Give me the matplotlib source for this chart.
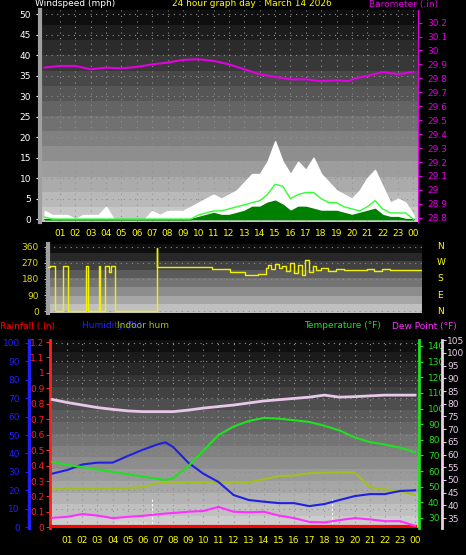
import numpy as np
import matplotlib
matplotlib.use("Agg")
import matplotlib.pyplot as plt

# ---- data (hours 0..24) ----
half_hours = np.arange(0, 24.5, 0.5)
wind_gust = [2, 1, 1, 1, 0, 1, 1, 1, 3, 0, 0, 0, 0, 0, 2, 1, 2, 2, 2, 3,
             4, 5, 6, 5, 6, 7, 9, 11, 11, 14, 19, 14, 11, 14, 12, 15, 11, 9,
             7, 6, 5, 7, 10, 12, 8, 4, 5, 4, 1]
wind_avg = [0.5, 0, 0, 0, 0, 0, 0, 0, 0, 0, 0, 0, 0, 0, 0, 0, 0, 0, 0, 0,
            1, 1.5, 2, 2, 2.5, 3, 3.5, 4, 4.5, 6, 8.5, 8, 5, 6, 6.5, 6.5, 5, 4,
            4, 3, 2.5, 2, 3, 4.5, 2.5, 1.5, 1.5, 1.5, 0]
wind_speed = [0, 0, 0, 0, 0, 0, 0, 0, 0, 0, 0, 0, 0, 0, 0, 0, 0, 0, 0, 0,
              0.5, 1, 1.5, 1, 1, 1.5, 2, 3, 3, 4, 4.5, 3.5, 2, 3, 3, 2.5, 2, 2,
              2, 1.5, 1, 1.5, 2, 2.5, 1, 0.5, 0.5, 0, 0]

baro_hours = [0, 1, 2, 3, 4, 5, 6, 7, 8, 9, 10, 11, 12, 13, 14, 15, 16, 17,
              18, 19, 19.8, 20.2, 21, 22, 23, 24]
baro = [29.877, 29.889, 29.889, 29.865, 29.877, 29.872, 29.882, 29.90,
        29.913, 29.932, 29.937, 29.925, 29.90, 29.865, 29.829, 29.81, 29.793,
        29.793, 29.78, 29.786, 29.78, 29.80, 29.817, 29.846, 29.83, 29.846]

dir_hours = [0.2, 0.35, 0.67, 1.21, 1.54, 2.69, 2.84, 3.52, 3.6, 3.93, 4.2,
             4.3, 4.58, 7.29, 7.32, 10.0, 10.88, 12.07, 13.05, 13.9, 14.4,
             14.55, 14.75, 15.0, 15.25, 15.5, 15.75, 16.0, 16.25, 16.5, 16.75,
             17.0, 17.25, 17.5, 17.7, 18.0, 18.5, 19.0, 19.5, 20.0, 20.5,
             21.0, 21.5, 22.0, 22.5, 22.7, 24.6]
wind_dir = [245, 250, 0, 250, 0, 250, 0, 250, 0, 250, 220, 250, 0, 355, 245,
            245, 235, 220, 200, 210, 240, 260, 235, 265, 240, 255, 225, 270,
            215, 260, 200, 285, 220, 255, 230, 240, 225, 235, 230, 232, 228,
            238, 222, 236, 230, 230, 230]

hours = [0, 1, 2, 3, 4, 5, 6, 7, 7.5, 8, 9, 10, 11, 12, 13, 14, 15, 16, 17,
         18, 19, 20, 21, 22, 23, 24]
humidity = [29, 31, 34, 35, 35, 38.6, 42, 45, 46, 43.5, 35, 29, 24.5, 17.4,
            14.7, 13.8, 13, 13, 11.4, 12.5, 14.7, 16.8, 17.9, 17.9, 19.6, 20]
indoor_hum = [20.6, 20.6, 21, 21, 21, 21.2, 21.7, 24, 24, 24, 24.3, 24.3,
              24.3, 24.3, 24.3, 26, 27.7, 28, 29.3, 29.5, 29.7, 29.7, 21.7,
              20.5, 19.5, 17.4]
temperature = [65.8, 64, 62.5, 61, 59.5, 58, 56.5, 55, 54.3, 55.5, 63, 73,
               83, 88.5, 92, 94, 93.5, 92.5, 91.4, 89, 86, 81.5, 78.6, 77,
               75, 72]
dew_point = [35.1, 35.5, 36.6, 36, 35, 35.5, 35.9, 36.5, 36.8, 37, 37.5, 37.8,
             39.4, 37.5, 37.3, 37.5, 36, 35, 33.5, 33.3, 34.2, 35, 34.5, 33.8,
             33.8, 32]
indoor_temp = [81.7, 80.5, 79.5, 78.5, 77.8, 77.2, 76.9, 76.9, 76.9, 76.9,
               77.5, 78.3, 78.9, 79.5, 80.3, 81.1, 81.6, 82.1, 82.6, 83.4,
               82.6, 82.8, 83.1, 83.4, 83.4, 83.4]
rainfall = [0] * len(hours)

hour_ticks = list(range(1, 25))
hour_labels = ["%02d" % (h % 24) for h in hour_ticks]

W, H = 466, 555


def box(l, t, r, b):
    return [l / W, 1 - b / H, (r - l) / W, (b - t) / H]


def background(ax, top, bottom, bands):
    grad = np.linspace(top, bottom, bands).reshape(-1, 1)
    ax.imshow(grad, cmap="gray", vmin=0, vmax=1, aspect="auto",
              extent=[0, 1, 0, 1], transform=ax.transAxes, zorder=0,
              interpolation="nearest")


def hour_axis(ax, pad):
    ax.set_xticks(hour_ticks)
    ax.set_xticklabels(hour_labels, color="yellow", fontsize=fs)
    ax.tick_params(axis="x", length=0, pad=pad)
    for h in hour_ticks:
        ax.axvline(h, color="#909090", ls=(0, (1, 4)), lw=0.8, zorder=1)


fig = plt.figure(figsize=(W / 100, H / 100), dpi=100, facecolor="black")
fs = 6.5

# ---- top panel: wind + barometer ----
ax1 = fig.add_axes(box(40, 10, 418, 222))
background(ax1, 0.06, 0.78, 14)
ax1.set_xlim(-0.3, 24.3)
ax1.set_ylim(-0.7, 51)
hour_axis(ax1, 5)
for v in range(0, 51, 5):
    ax1.axhline(v, color="#909090", ls=(0, (1, 4)), lw=0.8, zorder=1)
ax1.fill_between(half_hours, wind_gust, color="white", zorder=2)
ax1.fill_between(half_hours, wind_speed, color="#008000", zorder=3)
ax1.plot(half_hours, wind_avg, color="#30ff30", lw=1, zorder=4)
ax1.set_yticks(range(0, 51, 5))
ax1.tick_params(axis="y", colors="white", labelsize=fs, length=3)
for s in ["top", "right", "bottom"]:
    ax1.spines[s].set_visible(False)
ax1.spines["left"].set_color("#a0a0a0")
ax1.spines["left"].set_linewidth(3)

ax1b = ax1.twinx()
ax1b.set_ylim(28.77, 30.29)
ax1b.plot(baro_hours, baro, color="#e000e0", lw=1.5)
baro_ticks = np.round(np.arange(28.8, 30.25, 0.1), 1)
ax1b.set_yticks(baro_ticks)
ax1b.set_yticklabels(["%g" % v for v in baro_ticks])
ax1b.tick_params(axis="y", colors="#e000e0", labelsize=fs, length=3)
for s in ["top", "left", "bottom"]:
    ax1b.spines[s].set_visible(False)
ax1b.spines["right"].set_color("#e000e0")

fig.text(35 / W, 1 - 4 / H, "Windspeed (mph)", color="white", fontsize=fs, va="center")
fig.text(172 / W, 1 - 4 / H, "24 hour graph day : March 14 2026", color="yellow",
         fontsize=fs, va="center")
fig.text(438 / W, 1 - 4 / H, "Barometer (.in)", color="#e000e0", fontsize=fs,
         va="center", ha="right")

# ---- middle panel: wind direction ----
ax2 = fig.add_axes(box(48, 244, 422, 313))
background(ax2, 0.06, 0.75, 8)
ax2.set_xlim(0.21, 24.6)
ax2.set_ylim(-10, 375)
ax2.set_xticks([])
for v in [0, 90, 180, 270, 360]:
    ax2.axhline(v, color="#909090", ls=(0, (1, 4)), lw=0.8, zorder=1)
ax2.plot(dir_hours, wind_dir, drawstyle="steps-post", color="#f0f000", lw=1, zorder=3)
ax2.set_yticks([0, 90, 180, 270, 360])
ax2.tick_params(axis="y", colors="#e0e000", labelsize=fs, length=3)
ax2.set_yticks(range(0, 361, 15), minor=True)
ax2.tick_params(axis="y", which="minor", colors="#e0e000", length=2)
for s in ["top", "right", "bottom"]:
    ax2.spines[s].set_visible(False)
ax2.spines["left"].set_color("#a0a0a0")
ax2.spines["left"].set_linewidth(3)
for v, lab in zip([0, 90, 180, 270, 360], ["N", "E", "S", "W", "N"]):
    ax2.text(1.04, v, lab, color="yellow", fontsize=fs, va="center",
             transform=ax2.get_yaxis_transform())

# ---- bottom panel ----
ax3 = fig.add_axes(box(50, 340, 419, 528))
background(ax3, 0.06, 0.8, 16)
ax3.set_xlim(-0.14, 24.26)
ax3.set_ylim(-0.5, 101.6)
hour_axis(ax3, 6)
for v in range(0, 101, 10):
    ax3.axhline(v, color="#909090", ls=(0, (1, 4)), lw=0.8, zorder=1)
ax3.plot(hours, humidity, color="#2020e0", lw=1.5, zorder=4)
ax3.plot(hours, indoor_hum, color="#a0c020", lw=1.5, zorder=3)
ax3.axvline(6.6, color="white", ls=(0, (2, 2)), lw=0.8, zorder=2, ymax=0.16)
ax3.axvline(18.5, color="white", ls=(0, (2, 2)), lw=0.8, zorder=2, ymax=0.16)
ax3.text(5.2, 1, "Moon Rise", color="#e0e0e0", fontsize=4.5, ha="center", zorder=5)
ax3.set_yticks(range(0, 101, 10))
ax3.tick_params(axis="y", colors="#2020ff", labelsize=fs, length=3)
for s in ["top", "right", "bottom"]:
    ax3.spines[s].set_visible(False)
ax3.spines["left"].set_position(("axes", -0.057))
ax3.spines["left"].set_color("#2020ff")
ax3.spines["left"].set_linewidth(2.5)

ax_rain = ax3.twinx()
ax_rain.set_ylim(-0.0039, 1.213)
ax_rain.plot(hours, rainfall, color="red", lw=3, zorder=5)
ax_rain.yaxis.tick_left()
rain_ticks = np.round(np.arange(0, 1.25, 0.1), 1)
ax_rain.set_yticks(rain_ticks)
ax_rain.set_yticklabels(["%g" % v for v in rain_ticks])
ax_rain.tick_params(axis="y", colors="#ff2020", labelsize=fs, length=3, pad=1)
for s in ["top", "right", "bottom"]:
    ax_rain.spines[s].set_visible(False)
ax_rain.spines["left"].set_color("#ff2020")
ax_rain.spines["left"].set_linewidth(2)

ax_t = ax3.twinx()
ax_t.set_ylim(23.6, 143.8)
ax_t.plot(hours, temperature, color="#20e020", lw=1.5)
ax_t.set_yticks(range(30, 141, 10))
ax_t.tick_params(axis="y", colors="#20e020", labelsize=fs, length=3)
for s in ["top", "left", "bottom"]:
    ax_t.spines[s].set_visible(False)
ax_t.spines["right"].set_color("#20e020")
ax_t.spines["right"].set_linewidth(2)

ax_d = ax3.twinx()
ax_d.set_ylim(31.1, 105.1)
ax_d.plot(hours, dew_point, color="#ff30ff", lw=1.5)
ax_d.plot(hours, indoor_temp, color="#e8c8e8", lw=2)
ax_d.set_yticks(range(35, 106, 5))
ax_d.tick_params(axis="y", colors="#e8d0e8", labelsize=fs, length=3, pad=1)
for s in ["top", "left", "bottom"]:
    ax_d.spines[s].set_visible(False)
ax_d.spines["right"].set_position(("axes", 1.062))
ax_d.spines["right"].set_color("#e8d0e8")
ax_d.spines["right"].set_linewidth(2)

yl = 1 - 326 / H
fig.text(0, yl, "Rainfall (.in)", color="red", fontsize=fs, va="center")
fig.text(82 / W, yl, "Humidity (%)", color="#2020ff", fontsize=fs, va="center")
fig.text(117 / W, yl, "Indoor hum", color="#a0c020", fontsize=fs, va="center")
fig.text(304 / W, yl, "Temperature (°F)", color="#20e020", fontsize=fs, va="center")
fig.text(392 / W, yl, "Dew Point (°F)", color="#ff30ff", fontsize=fs, va="center")

fig.savefig("out.png", dpi=100, facecolor="black")
